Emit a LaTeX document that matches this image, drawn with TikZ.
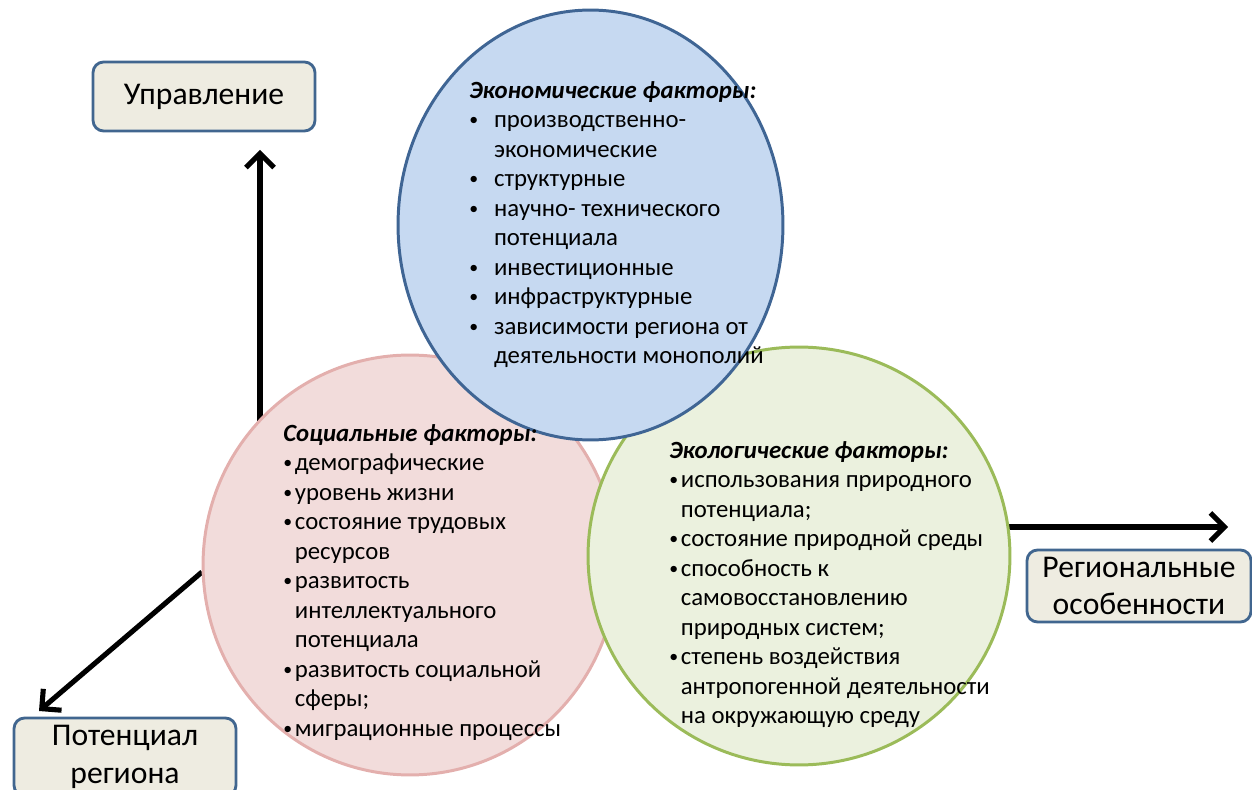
\documentclass[tikz,border=0pt]{standalone}
\usepackage{fontspec}
\usepackage{graphicx}
\setmainfont{Carlito}
\usetikzlibrary{shapes.geometric,arrows.meta}
\definecolor{econfill}{HTML}{C6D9F1}
\definecolor{econline}{HTML}{3F6594}
\definecolor{socfill}{HTML}{F2DCDB}
\definecolor{socline}{HTML}{E3AFAD}
\definecolor{ecofill}{HTML}{EBF1DE}
\definecolor{ecoline}{HTML}{9BBB59}
\definecolor{boxfill}{HTML}{EEECE1}
\definecolor{boxline}{HTML}{41668F}
\newcommand{\listfont}{\fontsize{14.1}{16.8}\selectfont}
\newcommand{\fbul}{\raisebox{0.15ex}{\scalebox{0.72}{\textbullet}}}
\newcommand{\factorcircle}[6]{
	\node [draw=#6, fill=#5, ellipse, line width=1.7pt, minimum width=#3, minimum height=#4, inner sep=0pt] (#1) at (#2) {};}
\tikzset{
	axis/.style={line width=2.9pt, -{Straight Barb[length=8pt,width=16pt]}},
	labelbox/.style={draw=boxline, fill=boxfill, line width=1.6pt, rounded corners=6pt, align=center, inner sep=0pt, font=\fontsize{18}{21.5}\selectfont},
	listtext/.style={anchor=north west, inner sep=0pt, font=\listfont},
}

\begin{document}
\begin{tikzpicture}[x=0.02cm,y=-0.02cm]
	\useasboundingbox (0,0) rectangle (1252,790);
	\clip (0,0) rectangle (1252,790);
	% axes, drawn under the circles
	\coordinate (upfoot) at (260,480);
	\coordinate (uptip) at (260,150);
	\coordinate (lefttip) at (39,711);
	\coordinate (righttip) at (1228,527);
	\node [labelbox, minimum width=4.44cm, minimum height=1.38cm] (upr) at (204,96.5) {Управление};
	\node [labelbox, minimum width=4.44cm, minimum height=1.56cm] (potential) at (125,757) {Потенциал\\ региона};
	\node [labelbox, minimum width=4.48cm, minimum height=1.44cm] (regional) at (1139,586) {Региональные\\ особенности};
	\draw [axis] (upfoot) -- (uptip);
	\draw [axis] (202,572) -- (lefttip);
	\draw [axis] (1000,527) -- (righttip);
	% factor circles
	\factorcircle{social}{410,565}{8.28cm}{8.4cm}{socfill}{socline}
	\factorcircle{ecol}{799,556}{8.44cm}{8.36cm}{ecofill}{ecoline}
	\factorcircle{econ}{590.5,225}{7.7cm}{8.6cm}{econfill}{econline}
	\node [listtext] (econtext) at (469,77) {\begin{tabular}{@{}l@{\hspace{9pt}}l@{}}
		\multicolumn{2}{@{}l@{}}{\textbf{\textit{Экономические факторы:}}}\\
		\fbul & производственно-\\
		& экономические\\
		\fbul & структурные\\
		\fbul & научно- технического\\
		& потенциала\\
		\fbul & инвестиционные\\
		\fbul & инфраструктурные\\
		\fbul & зависимости региона от\\
		& деятельности монополий
	\end{tabular}};
	\node [listtext] (soctext) at (283,420) {\begin{tabular}{@{}l@{\hspace{1.5pt}}l@{}}
		\multicolumn{2}{@{}l@{}}{\textbf{\textit{Социальные факторы:}}}\\
		\fbul & демографические\\
		\fbul & уровень жизни\\
		\fbul & состояние трудовых\\
		& ресурсов\\
		\fbul & развитость\\
		& интеллектуального\\
		& потенциала\\
		\fbul & развитость социальной\\
		& сферы;\\
		\fbul & миграционные процессы
	\end{tabular}};
	\node [listtext] (ecotext) at (669,437) {\begin{tabular}{@{}l@{\hspace{1.5pt}}l@{}}
		\multicolumn{2}{@{}l@{}}{\textbf{\textit{Экологические факторы:}}}\\
		\fbul & использования природного\\
		& потенциала;\\
		\fbul & состояние природной среды\\
		\fbul & способность к\\
		& самовосстановлению\\
		& природных систем;\\
		\fbul & степень воздействия\\
		& антропогенной деятельности\\
		& на окружающую среду
	\end{tabular}};
\end{tikzpicture}
\end{document}
